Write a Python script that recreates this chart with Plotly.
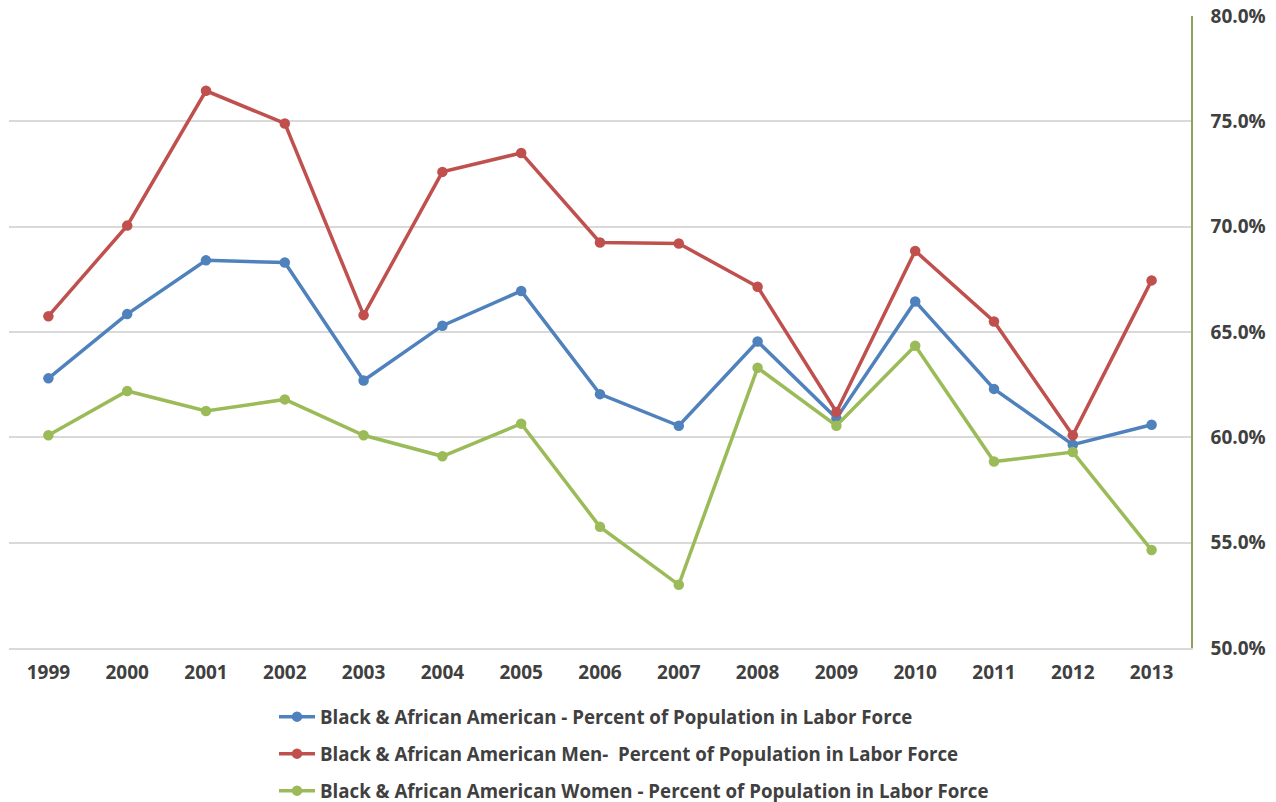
import plotly.graph_objects as go

years = ["1999", "2000", "2001", "2002", "2003", "2004", "2005", "2006",
         "2007", "2008", "2009", "2010", "2011", "2012", "2013"]
total = [62.8, 65.85, 68.4, 68.3, 62.7, 65.3, 66.95, 62.05,
         60.55, 64.55, 60.9, 66.45, 62.3, 59.65, 60.6]
men = [65.75, 70.05, 76.45, 74.9, 65.8, 72.6, 73.5, 69.25,
       69.2, 67.15, 61.2, 68.85, 65.5, 60.1, 67.45]
women = [60.1, 62.2, 61.25, 61.8, 60.1, 59.1, 60.65, 55.75,
         53.0, 63.3, 60.55, 64.35, 58.85, 59.3, 54.65]

names = ["Black & African American - Percent of Population in Labor Force",
         "Black & African American Men-  Percent of Population in Labor Force",
         "Black & African American Women - Percent of Population in Labor Force"]
colors = ["#4f81bd", "#c0504d", "#9bbb59"]
series = [total, men, women]
legends = ["legend", "legend2", "legend3"]

fig = go.Figure()
for s, n, c, lg in zip(series, names, colors, legends):
    fig.add_trace(go.Scatter(
        x=years, y=s, name=n, mode="lines+markers",
        line=dict(color=c, width=3.5),
        marker=dict(color=c, size=10.5),
        legend=lg, yaxis="y"))

font_fam = "Open Sans, Noto Sans, sans-serif"
leg_common = dict(font=dict(family=font_fam, size=18.7, color="#404040", weight="bold"),
                  bgcolor="rgba(0,0,0,0)", xanchor="left", yanchor="middle",
                  xref="container", yref="container", itemwidth=36)
def ycont(py):
    return (802 - py) / 802.0
lx = 274 / 1276.0
fig.update_layout(
    width=1276, height=802,
    margin=dict(l=9, r=85, t=16, b=154, autoexpand=False),
    paper_bgcolor="white", plot_bgcolor="white",
    showlegend=True,
    legend=dict(x=lx, y=ycont(717), **leg_common),
    legend2=dict(x=lx, y=ycont(754), **leg_common),
    legend3=dict(x=lx, y=ycont(791), **leg_common),
    xaxis=dict(type="category", showgrid=False, zeroline=False,
               showline=True, linecolor="#d9d9d9", linewidth=1.5, ticks="",
               tickfont=dict(family=font_fam, size=19, color="#404040", weight="bold"),
               ticklabelstandoff=6, range=[-0.5, 14.5]),
    yaxis=dict(side="right", range=[50, 80], dtick=5, tick0=50,
               tickformat=".1f", ticksuffix="%",
               showgrid=True, gridcolor="#d9d9d9", gridwidth=1.5,
               zeroline=False, showline=True, linecolor="#8ea35c", linewidth=1.5,
               ticks="", ticklabelstandoff=14,
               tickfont=dict(family=font_fam, size=19, color="#404040", weight="bold")),
)

fig.write_html("out.html")
